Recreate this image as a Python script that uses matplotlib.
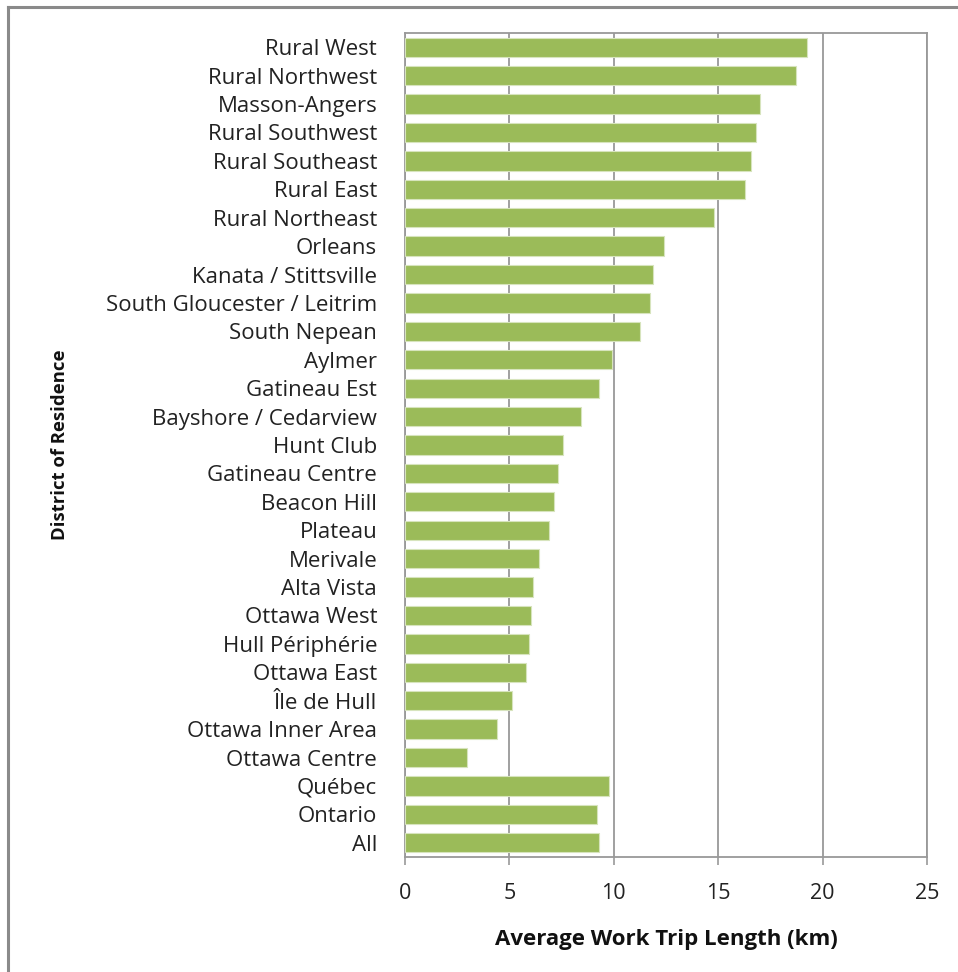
import numpy as np
import matplotlib.pyplot as plt
from matplotlib.lines import Line2D

# %% Data
districts = ['Rural West', 'Rural Northwest', 'Masson-Angers', 'Rural Southwest',
             'Rural Southeast', 'Rural East', 'Rural Northeast', 'Orleans',
             'Kanata / Stittsville', 'South Gloucester / Leitrim', 'South Nepean',
             'Aylmer', 'Gatineau Est', 'Bayshore / Cedarview', 'Hunt Club',
             'Gatineau Centre', 'Beacon Hill', 'Plateau', 'Merivale', 'Alta Vista',
             'Ottawa West', 'Hull Périphérie', 'Ottawa East', 'Île de Hull',
             'Ottawa Inner Area', 'Ottawa Centre', 'Québec', 'Ontario', 'All']
trip_km = [19.24, 18.74, 17.02, 16.83, 16.59, 16.28, 14.81, 12.42,
           11.88, 11.75, 11.25, 9.89, 9.29, 8.43, 7.56,
           7.31, 7.14, 6.90, 6.42, 6.15,
           6.02, 5.96, 5.78, 5.13, 4.39, 2.99, 9.79, 9.18, 9.29]
xticks = [0, 5, 10, 15, 20, 25]

# %% Plot
plt.rcParams['font.family'] = ['Open Sans', 'DejaVu Sans']
W, H = 958, 972
fig = plt.figure(figsize=(W/100, H/100), dpi=100)
ax = fig.add_axes([405/W, 1-857/H, 522/W, 824/H])

y = np.arange(len(districts))
ax.barh(y, trip_km, height=0.68, color='#9BBB59', edgecolor='#d7e4bd', linewidth=0.8, zorder=3)
ax.set_ylim(len(districts)-0.5, -0.5)
ax.set_xlim(0, 25)
ax.set_xticks(xticks)
ax.set_yticks(y)
ax.set_yticklabels(districts, fontsize=16, color='#222222')
ax.tick_params(axis='y', length=0, pad=20)
ax.tick_params(axis='x', length=6, width=1.2, color='#999999', labelsize=15.5,
               labelcolor='#222222', pad=13)
ax.xaxis.grid(True, color='#999999', linewidth=1.3, zorder=0)
for s in ax.spines.values():
    s.set_color('#999999')
    s.set_linewidth(1.3)

ax.set_xlabel('Average Work Trip Length (km)', fontsize=16, fontweight='bold',
              color='#111111', labelpad=18)
fig.text(60/W, 1-445/H, 'District of Residence', rotation=90, fontsize=13.3,
         fontweight='bold', color='#111111', ha='center', va='center')

# outer frame
fig.add_artist(Line2D([8/W, 8/W], [0, 1-7/H], color='#8a8a8a', linewidth=2.2))
fig.add_artist(Line2D([8/W, 1], [1-7/H, 1-7/H], color='#8a8a8a', linewidth=2.2))

fig.savefig('out.png', dpi=100)
